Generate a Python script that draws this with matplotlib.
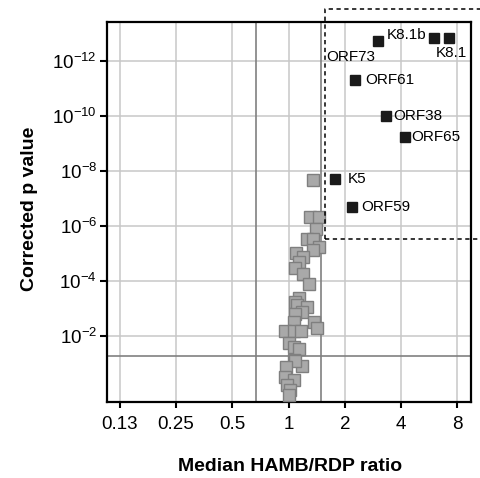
import matplotlib
matplotlib.use("Agg")
import matplotlib.pyplot as plt
import numpy as np

plt.rcParams['font.family'] = ['Liberation Sans', 'DejaVu Sans']
plt.rcParams['mathtext.fontset'] = 'custom'
plt.rcParams['mathtext.rm'] = 'Liberation Sans'
plt.rcParams['mathtext.it'] = 'Liberation Sans:italic'
plt.rcParams['mathtext.bf'] = 'Liberation Sans:bold'

# labelled (significant) viral genes
hit_names = ['K8.1', 'K8.1b', 'ORF73', 'ORF61', 'ORF38', 'ORF65', 'K5', 'ORF59']
hit_ratio = [7.21, 6.01, 3.0, 2.27, 3.32, 4.19, 1.77, 2.18]
hit_p = [1.5e-13, 1.5e-13, 2.0e-13, 5.0e-12, 1.0e-10, 5.8e-10, 2.0e-8, 2.0e-7]
# label offsets in points (dx, dy) and alignment
hit_off = [(2, -11), (-6, 2), (-2, -11), (7, 0), (5.5, 0), (4.5, 0), (9, 0), (6.5, 0)]
hit_ha = ['center', 'right', 'right', 'left', 'left', 'left', 'left', 'left']

# remaining genes
other_ratio = [1.346, 1.306, 1.459, 1.401, 1.254, 1.346, 1.459, 1.346, 1.095, 1.19,
               1.141, 1.078, 1.19, 1.281, 1.132, 1.086, 1.109, 1.254, 1.179, 1.086,
               1.073, 1.372, 1.418, 0.953, 1.073, 1.169, 1.0, 1.073, 1.132, 1.065,
               1.179, 1.086, 0.972, 0.960, 1.065, 0.981, 1.021, 1.0]
other_p = [2.2e-8, 4.8e-7, 4.8e-7, 1.3e-6, 2.9e-6, 2.9e-6, 5.9e-6, 7.2e-6, 9.5e-6, 1.35e-5,
           2.0e-5, 3.3e-5, 5.5e-5, 1.3e-4, 4.2e-4, 5.5e-4, 7.2e-4, 8.5e-4, 1.3e-3, 1.5e-3,
           3.0e-3, 3.0e-3, 4.9e-3, 6.3e-3, 6.3e-3, 6.3e-3, 0.018, 0.025, 0.028, 0.072,
           0.12, 0.078, 0.13, 0.29, 0.39, 0.58, 0.89, 1.35]

xticks = [0.125, 0.25, 0.5, 1, 2, 4, 8]
xticklabels = ['0.13', '0.25', '0.5', '1', '2', '4', '8']
yexp = [-12, -10, -8, -6, -4, -2]

fig = plt.figure(figsize=(4.81, 4.78), dpi=100)
ax = fig.add_axes([0.2218, 0.1596, 0.7574, 0.7937])

ax.set_xscale('log', base=2)
ax.set_yscale('log')
ax.set_xlim(0.1066, 9.45)
ax.set_ylim(2.36, 10 ** -13.39)

ax.set_xticks(xticks)
ax.set_xticklabels(xticklabels)
ax.set_yticks([10.0 ** e for e in yexp])
ax.set_yticklabels([r'$\mathregular{10^{%d}}$' % e for e in yexp])
ax.minorticks_off()
ax.grid(True, color='#c8c8c8', lw=1.1, zorder=0)
ax.set_axisbelow(True)

# thresholds
ax.axvline(1 / 1.5, color='#808080', lw=1.2, zorder=1)
ax.axvline(1.5, color='#808080', lw=1.2, zorder=1)
ax.axhline(0.05, color='#808080', lw=1.2, zorder=1)

ax.plot(other_ratio, other_p, 's', ms=8.3, mfc='#a9a9a9', mec='#7f7f7f', mew=1.0,
        ls='none', zorder=3)
ax.plot(hit_ratio, hit_p, 's', ms=7.6, mfc='#1a1a1a', mec='#1a1a1a', ls='none', zorder=4)

for n, x, y, off, ha in zip(hit_names, hit_ratio, hit_p, hit_off, hit_ha):
    ax.annotate(n, (x, y), xytext=off, textcoords='offset points', ha=ha, va='center',
                fontsize=11, zorder=5)

# dashed box around significant genes
bx = [1.566, 20, 20, 1.566, 1.566]
by = [10 ** -5.53, 10 ** -5.53, 10 ** -13.88, 10 ** -13.88, 10 ** -5.53]
ax.plot(bx, by, color='black', lw=1.1, ls=(0, (2.8, 2.3)), clip_on=False, zorder=6)

for s in ax.spines.values():
    s.set_linewidth(1.6)
    s.set_color('black')
ax.tick_params(axis='both', direction='out', width=1.5, labelsize=13.5)
ax.tick_params(axis='x', length=4, pad=6)
ax.tick_params(axis='y', length=5, pad=2)
ax.tick_params(top=False, right=False)

ax.set_xlabel('Median HAMB/RDP ratio', fontsize=14, fontweight='bold', va='center')
ax.set_ylabel('Corrected p value', fontsize=14, fontweight='bold', va='center')
ax.xaxis.set_label_coords(0.503, -0.172)
ax.yaxis.set_label_coords(-0.213, 0.509)

fig.savefig('out.png', dpi=100)
